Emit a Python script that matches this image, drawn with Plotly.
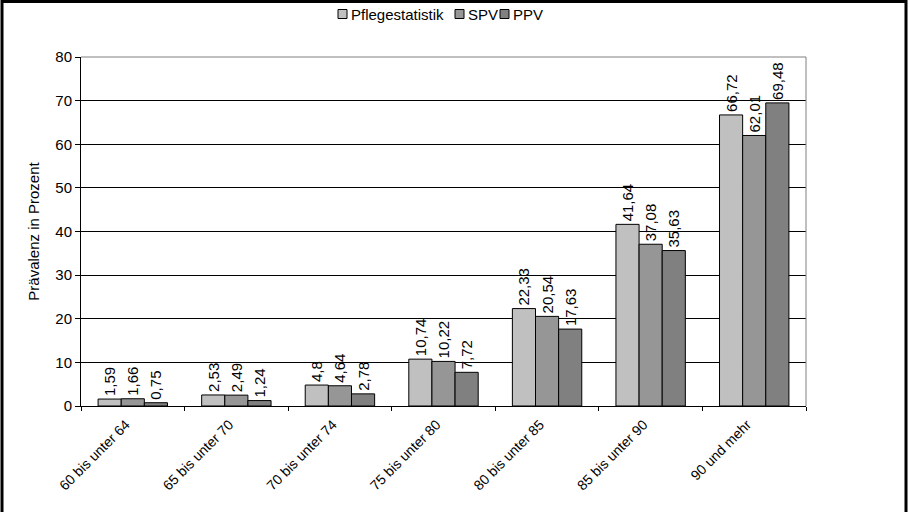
import plotly.graph_objects as go

# Age groups and prevalence (percent) by data source
categories = ["60 bis unter 64", "65 bis unter 70", "70 bis unter 74", "75 bis unter 80",
              "80 bis unter 85", "85 bis unter 90", "90 und mehr"]
pflegestatistik = [1.59, 2.53, 4.8, 10.74, 22.33, 41.64, 66.72]
spv = [1.66, 2.49, 4.64, 10.22, 20.54, 37.08, 62.01]
ppv = [0.75, 1.24, 2.78, 7.72, 17.63, 35.63, 69.48]
y_ticks = [0, 10, 20, 30, 40, 50, 60, 70, 80]

series_names = ["Pflegestatistik", "SPV", "PPV"]
series_values = [pflegestatistik, spv, ppv]
series_colors = ["#C0C0C0", "#969696", "#808080"]


def de_label(v):
    return f"{v:g}".replace(".", ",")


W, H = 910, 512
L, R, T, B = 81, 104, 57, 106
pw, ph = W - L - R, H - T - B
FONT = "Arial, Liberation Sans, sans-serif"

fig = go.Figure()
for name, vals, color in zip(series_names, series_values, series_colors):
    fig.add_trace(go.Bar(
        name=name, x=categories, y=vals,
        marker=dict(color=color, line=dict(color="#000000", width=1)),
        text=[de_label(v) for v in vals],
        textposition="outside", textangle=-90,
        textfont=dict(family=FONT, size=15, color="#000000"),
        cliponaxis=False, showlegend=False,
    ))


def px_x(p):
    return (p - L) / pw


def px_y(p):
    return (H - B - p) / ph


shapes = [
    # outer frame of the graphic
    dict(type="rect", xref="paper", yref="paper",
         x0=px_x(2), x1=px_x(906), y0=px_y(520), y1=px_y(1.5),
         line=dict(color="#000000", width=3)),
    # grey plot-area border (top and right)
    dict(type="line", xref="paper", yref="paper", x0=0, x1=1, y0=1, y1=1,
         line=dict(color="#808080", width=1)),
    dict(type="line", xref="paper", yref="paper", x0=1, x1=1, y0=0, y1=1,
         line=dict(color="#808080", width=1)),
]

# compact legend: small framed swatch followed by the series name
annotations = []
legend_x = [338, 455, 500]
legend_y = 14
for name, color, lx in zip(series_names, series_colors, legend_x):
    shapes.append(dict(type="rect", xref="paper", yref="paper",
                       x0=px_x(lx), x1=px_x(lx + 9),
                       y0=px_y(legend_y + 4.5), y1=px_y(legend_y - 4.5),
                       fillcolor=color, line=dict(color="#000000", width=1)))
    annotations.append(dict(xref="paper", yref="paper",
                            x=px_x(lx + 11), y=px_y(legend_y),
                            xanchor="left", yanchor="middle", showarrow=False,
                            text=name, font=dict(family=FONT, size=15, color="#000000")))

fig.update_layout(
    width=W, height=H,
    margin=dict(l=L, r=R, t=T, b=B),
    paper_bgcolor="#FFFFFF", plot_bgcolor="#FFFFFF",
    font=dict(family=FONT, color="#000000"),
    barmode="group", bargap=0.33, bargroupgap=0,
    uniformtext=dict(minsize=15, mode="show"),
    showlegend=False,
    shapes=shapes,
    annotations=annotations,
    xaxis=dict(
        type="category", range=[-0.5, 6.5],
        tickangle=-45, tickfont=dict(size=14),
        ticklabelshift=-7, ticklabelstandoff=4,
        ticks="outside", ticklen=4, tickcolor="#000000", tickson="boundaries",
        showline=True, linecolor="#000000", linewidth=1,
        showgrid=False,
    ),
    yaxis=dict(
        range=[0, 80], tickvals=y_ticks,
        tickfont=dict(size=15),
        ticks="outside", ticklen=5, tickcolor="#000000",
        showline=True, linecolor="#000000", linewidth=1,
        showgrid=True, gridcolor="#000000", gridwidth=1,
        zeroline=False,
        title=dict(text="Prävalenz in Prozent", font=dict(size=15), standoff=12),
    ),
)

fig.write_html("out.html")
